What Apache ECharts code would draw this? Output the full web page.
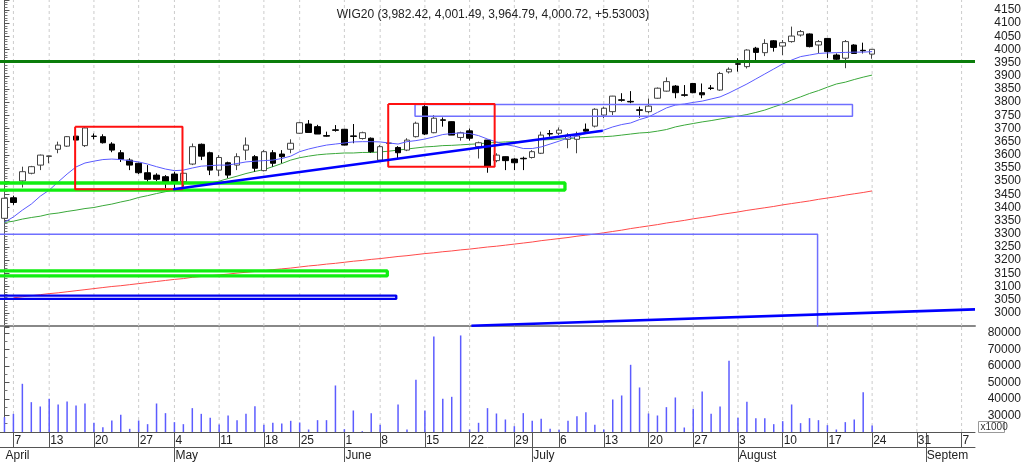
<!DOCTYPE html>
<html>
<head>
<meta charset="utf-8">
<script src="https://cdn.jsdelivr.net/npm/echarts@6/dist/echarts.min.js"></script>
<style>
  html, body { margin: 0; padding: 0; background: #fff; }
  #chart { width: 1024px; height: 462px; }
</style>
</head>
<body>
<div id="chart"></div>
<script>
// trading days (future days at the end are empty slots on the axis)
const YEAR = 2015;
const monthNames = ['January', 'February', 'March', 'April', 'May', 'June', 'July', 'August', 'September'];
const aprDays = [2, 7, 8, 9, 10, 13, 14, 15, 16, 17, 20, 21, 22, 23, 24, 27, 28, 29, 30];
const mayDays = [4, 5, 6, 7, 8, 11, 12, 13, 14, 15, 18, 19, 20, 21, 25, 26, 27, 28, 29];
const junDays = [1, 2, 3, 5, 8, 9, 10, 11, 12, 15, 16, 17, 18, 19, 22, 23, 24, 25, 26, 29, 30];
const julDays = [1, 2, 3, 6, 7, 8, 9, 10, 13, 14, 15, 16, 17, 20, 21, 22, 23, 24, 27, 28, 29, 30, 31];
const augDays = [3, 4, 5, 6, 7, 10, 11, 12, 13, 14, 17, 18, 19, 20, 21, 24, 25, 26, 27, 28, 31];
const sepDays = [1, 2, 3, 4, 7, 8];

const titleText = 'WIG20 (3,982.42, 4,001.49, 3,964.79, 4,000.72, +5.53003)';

// [open, close, low, high]
const candles = [
  [3359, 3435, 3356, 3437], [3437, 3419, 3410, 3445], [3501, 3536, 3476, 3555], [3530, 3555, 3526, 3558],
  [3561, 3599, 3542, 3601], [3594, 3596, 3568, 3597], [3621, 3637, 3606, 3650], [3633, 3669, 3630, 3671],
  [3671, 3656, 3652, 3675], [3635, 3702, 3630, 3705], [3671, 3670, 3659, 3681], [3669, 3646, 3643, 3678],
  [3641, 3618, 3610, 3648], [3608, 3583, 3573, 3618], [3580, 3561, 3542, 3587], [3568, 3532, 3527, 3570],
  [3532, 3507, 3498, 3561], [3523, 3507, 3500, 3530], [3517, 3498, 3473, 3523], [3527, 3498, 3473, 3536],
  [3498, 3530, 3479, 3532], [3565, 3631, 3561, 3643], [3640, 3595, 3580, 3643], [3608, 3542, 3523, 3612],
  [3542, 3590, 3519, 3599], [3570, 3523, 3512, 3574], [3561, 3593, 3542, 3606], [3618, 3637, 3580, 3666],
  [3593, 3549, 3536, 3599], [3540, 3612, 3537, 3618], [3608, 3568, 3555, 3618], [3603, 3593, 3568, 3618],
  [3621, 3644, 3606, 3659], [3682, 3722, 3680, 3725], [3717, 3685, 3685, 3732], [3707, 3679, 3679, 3714],
  [3673, 3671, 3669, 3688], [3695, 3693, 3688, 3713], [3697, 3637, 3636, 3699], [3672, 3670, 3644, 3717],
  [3662, 3684, 3658, 3688], [3663, 3612, 3608, 3666], [3580, 3631, 3574, 3637], [3643, 3645, 3637, 3650],
  [3628, 3608, 3585, 3633], [3618, 3656, 3614, 3663], [3669, 3720, 3666, 3726], [3783, 3679, 3675, 3789],
  [3684, 3739, 3682, 3751], [3733, 3731, 3707, 3742], [3726, 3675, 3675, 3727], [3666, 3684, 3654, 3688],
  [3691, 3663, 3654, 3700], [3631, 3646, 3586, 3650], [3656, 3557, 3532, 3657], [3578, 3599, 3572, 3606],
  [3593, 3578, 3542, 3594], [3584, 3570, 3542, 3587], [3587, 3585, 3542, 3593], [3590, 3612, 3586, 3618],
  [3606, 3675, 3603, 3688], [3681, 3679, 3669, 3694], [3682, 3694, 3675, 3704], [3659, 3675, 3625, 3682],
  [3659, 3672, 3606, 3688], [3697, 3690, 3688, 3719], [3709, 3773, 3704, 3777], [3751, 3777, 3739, 3783],
  [3764, 3823, 3751, 3824], [3809, 3807, 3802, 3834], [3803, 3801, 3796, 3842], [3771, 3769, 3741, 3783],
  [3764, 3785, 3758, 3814], [3815, 3853, 3813, 3856], [3842, 3878, 3840, 3894], [3861, 3836, 3815, 3865],
  [3828, 3826, 3821, 3865], [3871, 3836, 3834, 3873], [3836, 3828, 3815, 3871], [3854, 3852, 3846, 3865],
  [3846, 3909, 3843, 3915], [3915, 3925, 3909, 3932], [3946, 3944, 3916, 3967], [3935, 3998, 3928, 4001],
  [4005, 3989, 3960, 4010], [3988, 4023, 3975, 4039], [4033, 4008, 3992, 4036], [4013, 4026, 3979, 4036],
  [4030, 4051, 4026, 4087], [4055, 4068, 4049, 4074], [4059, 4011, 4008, 4061], [4017, 4030, 3985, 4036],
  [4042, 3992, 3967, 4042], [3979, 3963, 3960, 3985], [3967, 4030, 3929, 4036], [4017, 3985, 3983, 4020],
  [3997, 3995.19, 3985, 4026], [3982.42, 4000.72, 3964.79, 4001.49]
];

const volumes = [
  28970, 31000, 49200, 38070, 35450, 40100, 36670, 38485, 36060, 37270,
  25570, 22930, 26970, 30400, 21920, 26970, 24750, 37270, 31420, 25970,
  24750, 34450, 31000, 28590, 24550, 30000, 27170, 31000, 35660, 24340,
  25570, 25150, 26770, 25760, 21520, 27170, 27170, 48180, 21720, 33030,
  20510, 31420, 24340, 19000, 36670, 21520, 51620, 33030, 77880, 40100,
  41310, 78485, 21520, 25570, 34450, 31210, 27580, 23530, 31420, 26770,
  27980, 21920, 21310, 26770, 29600, 32020, 24340, 21520, 39700, 42120,
  60710, 46970, 31210, 30000, 35050, 40910, 22730, 34040, 44550, 31000,
  35450, 63130, 28590, 38280, 28390, 28390, 24750, 26570, 36670, 25360,
  28390, 27170, 24140, 21520, 25970, 27580, 44140, 23940
];

const fastMA = [
  3344, 3364, 3390, 3413, 3443, 3466, 3497, 3527, 3554, 3569,
  3576, 3582, 3584, 3582, 3578, 3573, 3565, 3555, 3546, 3540,
  3542, 3550, 3557, 3559, 3561, 3561, 3567, 3573, 3576, 3578,
  3580, 3586, 3595, 3612, 3622, 3630, 3637, 3641, 3645, 3649,
  3650, 3650, 3649, 3645, 3641, 3650, 3654, 3660, 3668, 3677,
  3681, 3683, 3681, 3673, 3660, 3649, 3639, 3633, 3624, 3624,
  3630, 3641, 3652, 3664, 3671, 3681, 3688, 3694, 3706, 3715,
  3721, 3734, 3744, 3761, 3778, 3789, 3793, 3799, 3804, 3812,
  3820, 3835, 3852, 3869, 3888, 3907, 3926, 3945, 3960, 3973,
  3979, 3985, 3987, 3988, 3989, 3990, 3990, 3992
];

const midMA = [
  3343, 3348, 3356, 3362, 3367, 3375, 3379, 3385, 3390, 3396,
  3400, 3407, 3413, 3421, 3428, 3438, 3445, 3453, 3460, 3466,
  3472, 3478, 3485, 3493, 3500, 3510, 3519, 3529, 3537, 3544,
  3555, 3567, 3580, 3589, 3595, 3600, 3603, 3605, 3607, 3607,
  3609, 3609, 3611, 3614, 3618, 3622, 3626, 3630, 3632, 3635,
  3636, 3638, 3640, 3642, 3645, 3647, 3649, 3650, 3652, 3654,
  3656, 3658, 3660, 3662, 3664, 3666, 3668, 3669, 3671, 3675,
  3679, 3683, 3685, 3690, 3696, 3706, 3713, 3719, 3725, 3730,
  3736, 3742, 3747, 3753, 3761, 3770, 3782, 3793, 3808, 3820,
  3833, 3844, 3857, 3869, 3876, 3886, 3895, 3903
];

const slowMA = [
  null, 3057, 3061, 3065, 3069, 3073, 3076, 3080, 3084, 3088,
  3092, 3096, 3100, 3103, 3107, 3111, 3115, 3119, 3123, 3127,
  3130, 3135, 3138, 3141, 3144, 3147, 3151, 3154, 3157, 3160,
  3164, 3167, 3170, 3174, 3178, 3181, 3185, 3188, 3192, 3196,
  3199, 3203, 3206, 3210, 3214, 3217, 3221, 3225, 3228, 3232,
  3235, 3239, 3242, 3246, 3250, 3253, 3257, 3261, 3265, 3269,
  3274, 3278, 3282, 3286, 3291, 3295, 3299, 3304, 3309, 3314,
  3320, 3325, 3330, 3335, 3341, 3346, 3351, 3357, 3362, 3367,
  3373, 3378, 3383, 3389, 3394, 3399, 3404, 3410, 3415, 3420,
  3425, 3431, 3436, 3441, 3447, 3452, 3457, 3463
];

// drawings, in (bar index, price): [fromIndex, toIndex, price1, price2]
const redBoxes = [[7.9, 19.9, 3707, 3469], [42.9, 54.8, 3793, 3555]];
const greenBoxes = [[-3, 62.66, 3493, 3466], [-3, 42.8, 3159, 3140]];
const navyBoxes = [[-3, 43.8, 3065.4, 3052.8]];
const paleBlueBoxes = [[-3, 90.9, 3298, 2900], [45.9, 94.8, 3791, 3747]];
// [index1, price1, index2, price2]
const trendLines = [[18.86, 3469, 66.88, 3691.5], [52.2, 2951, 108.5, 3013]];
const levelLine = 3956;

// ---------------------------------------------------------------
const font = 'Liberation Sans, Arial, sans-serif';
const dates = [];
[[3, aprDays], [4, mayDays], [5, junDays], [6, julDays], [7, augDays], [8, sepDays]].forEach(([m, ds]) => {
  ds.forEach(d => dates.push(new Date(YEAR, m, d)));
});
const categories = dates.map(d => (d.getMonth() + 1) + '/' + d.getDate());
const weekStart = dates.map((d, i) => i > 0 && (d.getDay() <= dates[i - 1].getDay() || d - dates[i - 1] > 6 * 864e5));
const monthStart = dates.map((d, i) => i === 0 || d.getMonth() !== dates[i - 1].getMonth());
const weekIdx = [];
weekStart.forEach((w, i) => { if (w) weekIdx.push(i); });
const lastSlot = categories.length - 0.5;

function boxPath(b) {
  return [[b[0], b[2]], [b[1], b[2]], [b[1], b[3]], [b[0], b[3]], [b[0], b[2]]];
}
function drawing(points, color, width, z) {
  return {
    type: 'line', xAxisIndex: 1, yAxisIndex: 0, data: points,
    symbol: 'none', silent: true, z: z || 4,
    lineStyle: { color: color, width: width }
  };
}
// vertical dashed week lines: segments broken by empty points
function weekLines(lo, hi) {
  const pts = [];
  weekIdx.forEach(i => { pts.push([i, lo], [i, hi], [i, '-']); });
  return pts;
}

const drawings = [];
paleBlueBoxes.forEach(b => drawings.push(drawing(boxPath(b), '#6f6fff', 1.5)));
greenBoxes.forEach(b => drawings.push(drawing(boxPath(b), '#10ee10', 3.3)));
navyBoxes.forEach(b => drawings.push(drawing(boxPath(b), '#0000ee', 2.3)));
redBoxes.forEach(b => drawings.push(drawing(boxPath(b), '#ff1010', 2, 5)));
trendLines.forEach(t => drawings.push(drawing([[t[0], t[1]], [t[2], t[3]]], '#0000ff', 2.6, 5)));

const gridLineStyle = { color: '#cccccc', type: [3, 3], width: 1 };

const chart = echarts.init(document.getElementById('chart'));

const option = {
  animation: false,
  textStyle: { fontFamily: font },
  title: {
    text: titleText, left: 488, top: 4, textAlign: 'center',
    textStyle: { fontSize: 12, fontWeight: 'normal', color: '#222', fontFamily: font }
  },
  grid: [
    { left: 0, top: 0, width: 976, height: 326 },
    { left: 0, top: 327, width: 976, height: 105 }
  ],
  xAxis: [
    {
      type: 'category', gridIndex: 0, position: 'bottom', data: categories,
      axisLine: { show: true, lineStyle: { color: '#888', width: 2 } },
      axisTick: { show: false }, axisLabel: { show: false }, splitLine: { show: false }
    },
    { type: 'value', gridIndex: 0, position: 'bottom', min: -0.5, max: lastSlot, show: false },
    {
      type: 'category', gridIndex: 1, position: 'bottom', data: categories,
      axisLine: { show: true, lineStyle: { color: '#555' } },
      axisTick: { show: true, alignWithLabel: true, interval: i => weekStart[i], length: 15, lineStyle: { color: '#555' } },
      axisLabel: {
        show: true, interval: i => weekStart[i], formatter: (v, i) => String(dates[i].getDate()),
        align: 'left', margin: 3, padding: [0, 0, 0, 1], fontSize: 12, color: '#222', fontFamily: font
      },
      splitLine: { show: false }
    },
    {
      type: 'category', gridIndex: 1, position: 'bottom', data: categories, offset: 15,
      axisLine: { show: true, lineStyle: { color: '#555' } },
      axisTick: { show: true, alignWithLabel: true, interval: i => monthStart[i] && i > 0, length: 15, lineStyle: { color: '#555' } },
      axisLabel: {
        show: true, interval: i => monthStart[i], formatter: (v, i) => monthNames[dates[i].getMonth()],
        align: 'left', margin: 3, padding: [0, 0, 0, 1], fontSize: 12, color: '#222', fontFamily: font,
        width: 49, overflow: 'truncate', ellipsis: ''
      },
      splitLine: { show: false }
    },
    {
      type: 'category', gridIndex: 1, position: 'bottom', data: categories,
      axisLine: { show: false },
      axisTick: { show: true, alignWithLabel: true, interval: i => monthStart[i] && i > 0, length: 15, lineStyle: { color: '#555' } },
      axisLabel: { show: false }, splitLine: { show: false }
    },
    { type: 'value', gridIndex: 1, position: 'bottom', min: -0.5, max: lastSlot, show: false }
  ],
  yAxis: [
    {
      type: 'value', gridIndex: 0, position: 'right', min: 2950, max: 4188, interval: 50,
      axisLine: { show: true, lineStyle: { color: '#555' } },
      axisTick: { show: true, length: 5, lineStyle: { color: '#555' } },
      minorTick: { show: true, splitNumber: 5, length: 3, lineStyle: { color: '#777' } },
      splitLine: { show: false },
      axisLabel: {
        showMinLabel: false, showMaxLabel: false, formatter: v => String(v),
        align: 'right', margin: 46, fontSize: 12, color: '#222', fontFamily: font
      }
    },
    {
      type: 'value', gridIndex: 1, position: 'right', min: 20000, max: 83600, interval: 10000,
      axisLine: { show: true, lineStyle: { color: '#555' } },
      axisTick: { show: true, length: 5, lineStyle: { color: '#555' } },
      minorTick: { show: true, splitNumber: 2, length: 3, lineStyle: { color: '#777' } },
      splitLine: { show: false },
      axisLabel: {
        showMinLabel: false, showMaxLabel: false, formatter: v => String(v),
        align: 'right', margin: 46, fontSize: 12, color: '#222', fontFamily: font
      }
    }
  ],
  graphic: [
    {
      type: 'group', left: 978, top: 421,
      children: [
        { type: 'rect', shape: { x: 0, y: 0, width: 26, height: 11 }, style: { fill: '#fff', stroke: '#999', lineWidth: 1 } },
        { type: 'text', x: 2, y: 1, style: { text: 'x1000', fontSize: 10, fill: '#333', fontFamily: font } }
      ]
    }
  ],
  series: [
    {
      type: 'line', xAxisIndex: 1, yAxisIndex: 0, data: weekLines(2950, 4188),
      symbol: 'none', silent: true, z: 1, connectNulls: false, lineStyle: gridLineStyle
    },
    {
      type: 'line', xAxisIndex: 5, yAxisIndex: 1, data: weekLines(20000, 83600),
      symbol: 'none', silent: true, z: 1, connectNulls: false, lineStyle: gridLineStyle
    },
    {
      type: 'candlestick', xAxisIndex: 0, yAxisIndex: 0, data: candles, barWidth: 6, z: 3,
      itemStyle: { color: '#fff', color0: '#000', borderColor: '#444', borderColor0: '#000', borderWidth: 1 }
    },
    {
      type: 'line', xAxisIndex: 0, yAxisIndex: 0, data: slowMA, symbol: 'none', z: 2,
      lineStyle: { color: '#ff4a4a', width: 1 }
    },
    {
      type: 'line', xAxisIndex: 0, yAxisIndex: 0, data: midMA, symbol: 'none', z: 2,
      lineStyle: { color: '#3aa83a', width: 1 }
    },
    {
      type: 'line', xAxisIndex: 0, yAxisIndex: 0, data: fastMA, symbol: 'none', z: 4,
      lineStyle: { color: '#5a5aff', width: 1 }
    },
    {
      type: 'line', xAxisIndex: 0, yAxisIndex: 0, data: [],
      markLine: {
        z: 6, silent: true, symbol: 'none', label: { show: false },
        lineStyle: { color: '#0b7d0b', type: 'solid', width: 3 },
        data: [{ yAxis: levelLine }]
      }
    },
    ...drawings,
    {
      type: 'bar', xAxisIndex: 2, yAxisIndex: 1, data: volumes, barWidth: 1.5, z: 3,
      itemStyle: { color: '#5c5cff' }
    }
  ]
};

chart.setOption(option);
</script>
</body>
</html>
